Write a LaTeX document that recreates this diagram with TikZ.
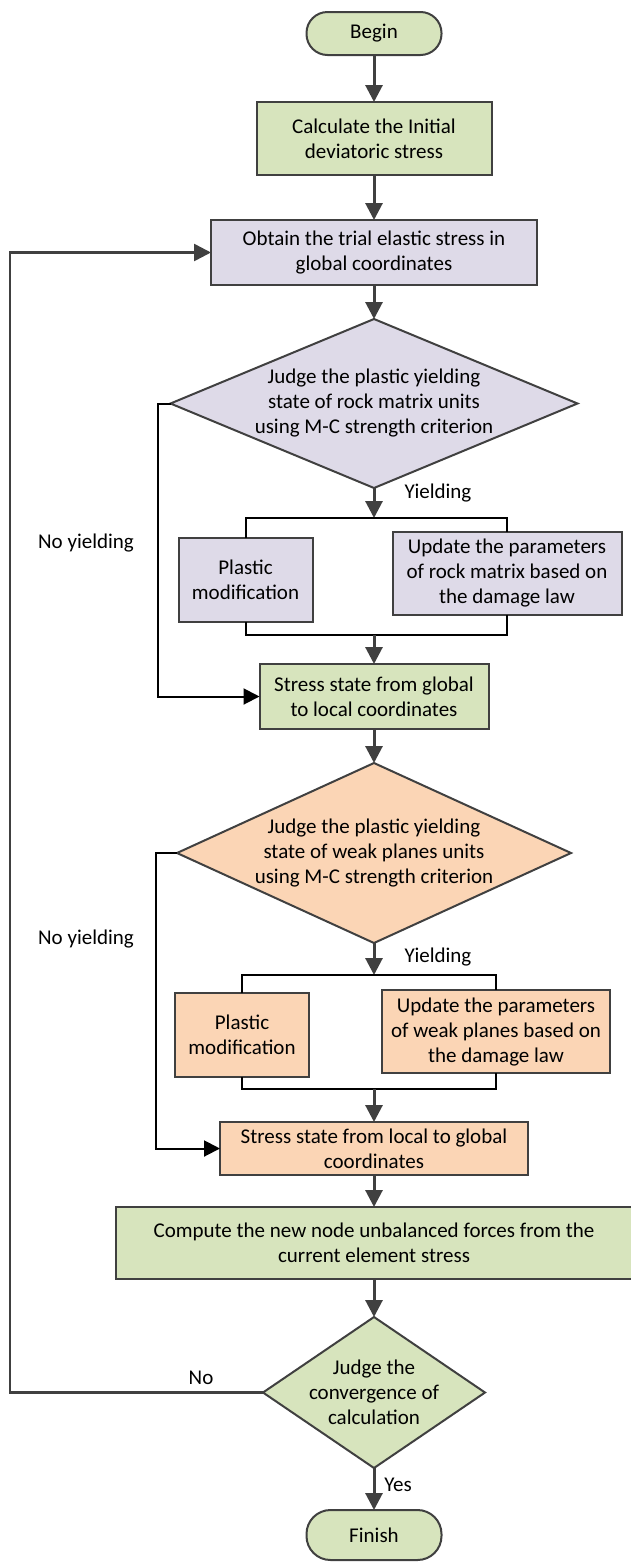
\documentclass[tikz,border=0pt]{standalone}
\usepackage{fontspec}
\setmainfont{Carlito}
\usepackage{xcolor}
\usetikzlibrary{positioning, shapes.geometric, arrows.meta}
\definecolor{stepgreen}{HTML}{D7E4BD}
\definecolor{steppurple}{HTML}{DEDAE8}
\definecolor{steporange}{HTML}{FBD5B5}
\definecolor{edgegray}{HTML}{404040}

\begin{document}
\begin{tikzpicture}[x=1pt, y=-1pt,
	font=\fontsize{21}{25}\selectfont,
	term/.style={rectangle, draw=edgegray, fill=stepgreen, line width=2pt, rounded corners=21pt, minimum width=135pt, minimum height=43pt, inner sep=0pt, outer sep=0pt},
	stepbox/.style={rectangle, draw=edgegray, line width=2pt, align=center, inner sep=0pt, outer sep=0pt},
	judge/.style={diamond, draw=edgegray, line width=2pt, inner sep=0pt, outer sep=0pt},
	flow/.style={-{Triangle[length=17pt, width=17pt]}, draw=edgegray, line width=3pt},
	sideflow/.style={-{Triangle[length=16pt, width=16pt]}, draw=black, line width=2pt},
	fork/.style={draw=black, line width=2pt},
	]
	\useasboundingbox (0,0) rectangle (630,1564);

		%Nodes
	\node[term]        (begin)  at (374,33.5)                          {Begin};
	\node[stepbox, fill=stepgreen, minimum width=235pt, minimum height=73pt]   (calc)    [below=47pt of begin]   {Calculate the Initial\\deviatoric stress};
	\node[stepbox, fill=steppurple, minimum width=326pt, minimum height=65pt]  (obtain)  [below=45pt of calc]    {Obtain the trial elastic stress in\\global coordinates};
	\node[judge, fill=steppurple, minimum width=407pt, minimum height=169pt]   (J1)      [below=34pt of obtain]  {};
	\node[align=center] (J1text) at (J1) {Judge the plastic yielding\\state of rock matrix units\\using M-C strength criterion};
	\node[stepbox, fill=steppurple, minimum width=134pt, minimum height=84pt]  (P1)      [below=50pt of J1, xshift=-128.5pt]  {Plastic\\modification};
	\node[stepbox, fill=steppurple, minimum width=229pt, minimum height=83pt]  (U1)      [below=44pt of J1, xshift=133pt]     {Update the parameters\\of rock matrix based on\\the damage law};
	\node[stepbox, fill=stepgreen, minimum width=229pt, minimum height=65pt]   (S1)      [below=176pt of J1]     {Stress state from global\\to local coordinates};
	\node[judge, fill=steporange, minimum width=394pt, minimum height=180pt]   (J2)      [below=34pt of S1]      {};
	\node[align=center] (J2text) at (J2) {Judge the plastic yielding\\state of weak planes units\\using M-C strength criterion};
	\node[stepbox, fill=steporange, minimum width=134pt, minimum height=84pt]  (P2)      [below=50pt of J2, xshift=-132pt]    {Plastic\\modification};
	\node[stepbox, fill=steporange, minimum width=228pt, minimum height=83pt]  (U2)      [below=47pt of J2, xshift=122pt]     {Update the parameters\\of weak planes based on\\the damage law};
	\node[stepbox, fill=steporange, minimum width=308pt, minimum height=53pt]  (S2)      [below=179pt of J2]     {Stress state from local to global\\coordinates};
	\node[stepbox, fill=stepgreen, minimum width=516pt, minimum height=72pt]   (comp)    [below=32pt of S2]      {Compute the new node unbalanced forces from the\\current element stress};
	\node[judge, fill=stepgreen, minimum width=222pt, minimum height=151pt]    (J3)      [below=38pt of comp]    {};
	\node[align=center] (J3text) at (J3) {Judge the\\convergence of\\calculation};
	\node[term, minimum height=50pt, rounded corners=24pt]  (finish)  [below=42pt of J3]  {Finish};

	\node (noyield1) at (86,543)   {No yielding};
	\node (noyield2) at (86,939)   {No yielding};
	\node (yield1)   at (438,493)  {Yielding};
	\node (yield2)   at (438,957)  {Yielding};
	\node (no)       at (201,1378) {No};
	\node (yes)      at (398,1485) {Yes};

		%Lines
	\draw[flow] (begin) -- (calc);
	\draw[flow] (calc) -- (obtain);
	\draw[flow] (obtain) -- (J1);
	\coordinate[below=30pt of J1.south] (fork1);
	\draw[flow] (J1) -- (fork1);
	\draw[fork] (P1.north) |- (fork1) -| (U1.north);
	\coordinate[above=29pt of S1.north] (join1);
	\draw[fork] (P1.south) |- (join1) -| (U1.south);
	\draw[flow] (join1) -- (S1);
	\draw[sideflow] (J1.west) -- ++(-13pt,0) |- (S1.west);
	\draw[flow] (S1) -- (J2);
	\coordinate[below=32pt of J2.south] (fork2);
	\draw[flow] (J2) -- (fork2);
	\draw[fork] (P2.north) |- (fork2) -| (U2.north);
	\coordinate[above=33pt of S2.north] (join2);
	\draw[fork] (P2.south) |- (join2) -| (U2.south);
	\draw[flow] (join2) -- (S2);
	\draw[sideflow] (J2.west) -- ++(-21pt,0) |- (S2.west);
	\draw[flow] (S2) -- (comp);
	\draw[flow] (comp) -- (J3);
	\draw[flow] (J3) -- (finish);
	\draw[flow, line width=2.6pt] (J3.west) -- ++(-253pt,0) |- (obtain.west);
\end{tikzpicture}
\end{document}
